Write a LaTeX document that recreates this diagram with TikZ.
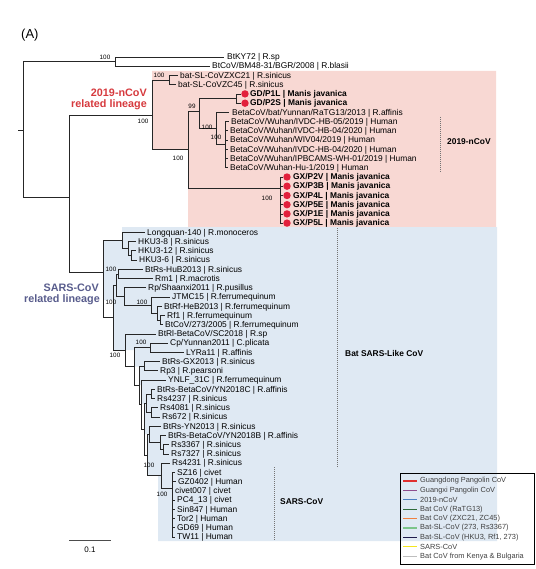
\documentclass[tikz,border=0pt]{standalone}
\usepackage{fontspec}
\setmainfont{Liberation Sans}
\definecolor{pinkbg}{RGB}{248,216,211}
\definecolor{bluebg}{RGB}{223,233,243}
\definecolor{dotred}{RGB}{226,32,60}
\definecolor{ncovred}{RGB}{214,58,62}
\definecolor{sarsblue}{RGB}{88,92,140}
\definecolor{lgGD}{RGB}{224,48,47}
\definecolor{lgGX}{RGB}{142,78,142}
\definecolor{lgNC}{RGB}{74,127,192}
\definecolor{lgRA}{RGB}{46,107,58}
\definecolor{lgZX}{RGB}{240,128,64}
\definecolor{lgSL}{RGB}{124,197,138}
\definecolor{lgHK}{RGB}{30,27,75}
\definecolor{lgSA}{RGB}{245,230,30}
\definecolor{lgKB}{RGB}{190,190,190}
\tikzset{
  br/.style={draw=black!85, line width=0.75pt},
  leaf/.style={anchor=west, inner sep=0pt, font=\fontsize{8.4}{9}\selectfont, text height=5.6pt, text depth=0pt},
  bleaf/.style={leaf, font=\fontsize{8.4}{9}\selectfont\bfseries},
  bs/.style={inner sep=0pt, font=\fontsize{6.3}{7}\selectfont},
  dotmark/.style={circle, fill=dotred, inner sep=0pt, minimum size=7.4pt},
  dotline/.style={draw=black!55, line width=0.9pt, dash pattern=on 1pt off 1pt},
  lineage/.style={anchor=east, inner sep=0pt, font=\fontsize{10.8}{12}\selectfont\bfseries},
  clade/.style={anchor=west, inner sep=0pt, font=\fontsize{8.4}{9}\selectfont\bfseries},
  legtext/.style={anchor=west, inner sep=0pt, text=black!75, font=\fontsize{7.4}{8}\selectfont},
  legline/.style={line width=1.3pt}
}
\begin{document}
\begin{tikzpicture}[x=1pt,y=-1pt]
\useasboundingbox (0,0) rectangle (535,569);
% backgrounds
\fill[pinkbg] (152,71) -- (496,71) -- (496,227) -- (188,227) -- (188,149.5) -- (152,149.5) -- cycle;
\fill[bluebg] (122,227) -- (497,227) -- (497,541) -- (158,541) -- (158,475.5) -- (147,475.5) -- (147,434) -- (144,434) -- (144,404) -- (141,404) -- (141,385) -- (139,385) -- (139,366.6) -- (134,366.6) -- (134,350) -- (113,350) -- (113,300) -- (103,300) -- (103,240.4) -- (122,240.4) -- cycle;

\node[anchor=west, inner sep=0pt, font=\fontsize{13}{14}\selectfont] (panel) at (21,35) {(A)};

% leaves
\node[leaf] (n0) at (227,57.0) {BtKY72 | R.sp};
\node[leaf] (n1) at (212,66.2) {BtCoV/BM48-31/BGR/2008 | R.blasii};
\node[leaf] (n2) at (180,75.5) {bat-SL-CoVZXC21 | R.sinicus};
\node[leaf] (n3) at (178,84.7) {bat-SL-CoVZC45 | R.sinicus};
\node[bleaf] (n4) at (250,93.9) {GD/P1L | Manis javanica};
\node[bleaf] (n5) at (250,103.2) {GD/P2S | Manis javanica};
\node[leaf] (n6) at (232,112.4) {BetaCoV/bat/Yunnan/RaTG13/2013 | R.affinis};
\node[leaf] (n7) at (231,121.6) {BetaCoV/Wuhan/IVDC-HB-05/2019 | Human};
\node[leaf] (n8) at (230,130.8) {BetaCoV/Wuhan/IVDC-HB-04/2020 | Human};
\node[leaf] (n9) at (230,140.1) {BetaCoV/Wuhan/WIV04/2019 | Human};
\node[leaf] (n10) at (230,149.3) {BetaCoV/Wuhan/IVDC-HB-04/2020 | Human};
\node[leaf] (n11) at (230,158.5) {BetaCoV/Wuhan/IPBCAMS-WH-01/2019 | Human};
\node[leaf] (n12) at (230,167.8) {BetaCoV/Wuhan-Hu-1/2019 | Human};
\node[bleaf] (n13) at (293,177.0) {GX/P2V | Manis javanica};
\node[bleaf] (n14) at (293,186.2) {GX/P3B | Manis javanica};
\node[bleaf] (n15) at (293,195.5) {GX/P4L | Manis javanica};
\node[bleaf] (n16) at (293,204.7) {GX/P5E | Manis javanica};
\node[bleaf] (n17) at (293,213.9) {GX/P1E | Manis javanica};
\node[bleaf] (n18) at (293,223.1) {GX/P5L | Manis javanica};
\node[leaf] (n19) at (147,232.4) {Longquan-140 | R.monoceros};
\node[leaf] (n20) at (138,241.6) {HKU3-8 | R.sinicus};
\node[leaf] (n21) at (138,250.8) {HKU3-12 | R.sinicus};
\node[leaf] (n22) at (139,260.1) {HKU3-6 | R.sinicus};
\node[leaf] (n23) at (145,269.3) {BtRs-HuB2013 | R.sinicus};
\node[leaf] (n24) at (155,278.5) {Rm1 | R.macrotis};
\node[leaf] (n25) at (148,287.8) {Rp/Shaanxi2011 | R.pusillus};
\node[leaf] (n26) at (172,297.0) {JTMC15 | R.ferrumequinum};
\node[leaf] (n27) at (164,306.2) {BtRf-HeB2013 | R.ferrumequinum};
\node[leaf] (n28) at (167,315.4) {Rf1 | R.ferrumequinum};
\node[leaf] (n29) at (165,324.7) {BtCoV/273/2005 | R.ferrumequinum};
\node[leaf] (n30) at (158,333.9) {BtRl-BetaCoV/SC2018 | R.sp};
\node[leaf] (n31) at (170,343.1) {Cp/Yunnan2011 | C.plicata};
\node[leaf] (n32) at (186,352.4) {LYRa11 | R.affinis};
\node[leaf] (n33) at (162,361.6) {BtRs-GX2013 | R.sinicus};
\node[leaf] (n34) at (160,370.8) {Rp3 | R.pearsoni};
\node[leaf] (n35) at (168,380.1) {YNLF\_31C | R.ferrumequinum};
\node[leaf] (n36) at (157,389.3) {BtRs-BetaCoV/YN2018C | R.affinis};
\node[leaf] (n37) at (157,398.5) {Rs4237 | R.sinicus};
\node[leaf] (n38) at (160,407.7) {Rs4081 | R.sinicus};
\node[leaf] (n39) at (162,417.0) {Rs672 | R.sinicus};
\node[leaf] (n40) at (163,426.2) {BtRs-YN2013 | R.sinicus};
\node[leaf] (n41) at (168,435.4) {BtRs-BetaCoV/YN2018B | R.affinis};
\node[leaf] (n42) at (171,444.7) {Rs3367 | R.sinicus};
\node[leaf] (n43) at (171,453.9) {Rs7327 | R.sinicus};
\node[leaf] (n44) at (172,463.1) {Rs4231 | R.sinicus};
\node[leaf] (n45) at (177,472.4) {SZ16 | civet};
\node[leaf] (n46) at (178,481.6) {GZ0402 | Human};
\node[leaf] (n47) at (175,490.8) {civet007 | civet};
\node[leaf] (n48) at (177,500.0) {PC4\_13 | civet};
\node[leaf] (n49) at (177,509.3) {Sin847 | Human};
\node[leaf] (n50) at (177,518.5) {Tor2 | Human};
\node[leaf] (n51) at (177,527.7) {GD69 | Human};
\node[leaf] (n52) at (177,537.0) {TW11 | Human};

% internal nodes
\coordinate (stub) at (18,130);
\coordinate (root) at (23,130);
\coordinate (T1) at (115,61.6);
\coordinate (L0) at (69,197);
\coordinate (N1) at (152,115);
\coordinate (ZX) at (169,80.1);
\coordinate (N2) at (188,149.5);
\coordinate (N3) at (199,111);
\coordinate (GD) at (236,98.5);
\coordinate (An) at (216,128.5);
\coordinate (Hn) at (225,144.7);
\coordinate (GX) at (280,188);
\coordinate (R0) at (103,272);
\coordinate (Lq) at (122,240.4);
\coordinate (H) at (128,248.5);
\coordinate (H2) at (131,255.5);
\coordinate (M) at (113,317.7);
\coordinate (A0) at (116,285.2);
\coordinate (Q) at (118,273.9);
\coordinate (P) at (124,296.5);
\coordinate (F) at (151,305.5);
\coordinate (F2) at (157,313.1);
\coordinate (F3) at (160,320.1);
\coordinate (B1) at (125,350.2);
\coordinate (B2) at (134,366.6);
\coordinate (C) at (150,347.8);
\coordinate (B3) at (139,385.4);
\coordinate (G) at (144,366.2);
\coordinate (B4) at (141,404.6);
\coordinate (B5) at (144,429);
\coordinate (K) at (146,403.1);
\coordinate (K1) at (151,393.9);
\coordinate (K2) at (151,412.4);
\coordinate (B6) at (147,455);
\coordinate (Y) at (149,434.3);
\coordinate (Y2) at (160,442.4);
\coordinate (Y3) at (163,449.3);
\coordinate (S1) at (161,475.5);
\coordinate (SA) at (172,488);

% branches
\draw[br] (stub) -- (root);
\draw[br] (root) |- (T1);
\draw[br] (root) |- (L0);
\draw[br] (T1) |- ([xshift=-3pt]n0.west);
\draw[br] (T1) |- ([xshift=-2pt]n1.west);
\draw[br] (L0) |- (N1);
\draw[br] (L0) |- (R0);
\draw[br] (N1) |- (ZX);
\draw[br] (N1) |- (N2);
\draw[br] (ZX) |- ([xshift=-2pt]n2.west);
\draw[br] (ZX) |- ([xshift=-2pt]n3.west);
\draw[br] (N2) |- (N3);
\draw[br] (N2) |- (GX);
\draw[br] (N3) |- (GD);
\draw[br] (N3) |- (An);
\draw[br] (GD) |- ([xshift=-9pt]n4.west);
\draw[br] (GD) |- ([xshift=-9pt]n5.west);
\draw[br] (An) |- ([xshift=-3pt]n6.west);
\draw[br] (An) |- (Hn);
\foreach \k in {7,...,12} {\draw[br] (Hn) |- ([xshift=-2pt]n\k.west);}
\foreach \k in {13,...,18} {\draw[br] (GX) |- ([xshift=-10pt]n\k.west);}
\draw[br] (R0) |- (Lq);
\draw[br] (R0) |- (M);
\draw[br] (Lq) |- ([xshift=-2pt]n19.west);
\draw[br] (Lq) |- (H);
\draw[br] (H) |- ([xshift=-2pt]n20.west);
\draw[br] (H) |- (H2);
\draw[br] (H2) |- ([xshift=-2pt]n21.west);
\draw[br] (H2) |- ([xshift=-2pt]n22.west);
\draw[br] (M) |- (A0);
\draw[br] (M) |- (B1);
\draw[br] (A0) |- (Q);
\draw[br] (A0) |- (P);
\draw[br] (Q) |- ([xshift=-2pt]n23.west);
\draw[br] (Q) |- ([xshift=-2pt]n24.west);
\draw[br] (P) |- ([xshift=-2pt]n25.west);
\draw[br] (P) |- (F);
\draw[br] (F) |- ([xshift=-2pt]n26.west);
\draw[br] (F) |- (F2);
\draw[br] (F2) |- ([xshift=-2pt]n27.west);
\draw[br] (F2) |- (F3);
\draw[br] (F3) |- ([xshift=-2pt]n28.west);
\draw[br] (F3) |- ([xshift=-2pt]n29.west);
\draw[br] (B1) |- ([xshift=-2pt]n30.west);
\draw[br] (B1) |- (B2);
\draw[br] (B2) |- (C);
\draw[br] (B2) |- (B3);
\draw[br] (C) |- ([xshift=-2pt]n31.west);
\draw[br] (C) |- ([xshift=-2pt]n32.west);
\draw[br] (B3) |- (G);
\draw[br] (B3) |- (B4);
\draw[br] (G) |- ([xshift=-2pt]n33.west);
\draw[br] (G) |- ([xshift=-2pt]n34.west);
\draw[br] (B4) |- ([xshift=-2pt]n35.west);
\draw[br] (B4) |- (B5);
\draw[br] (B5) |- (K);
\draw[br] (B5) |- (B6);
\draw[br] (K) |- (K1);
\draw[br] (K) |- (K2);
\draw[br] (K1) |- ([xshift=-2pt]n36.west);
\draw[br] (K1) |- ([xshift=-2pt]n37.west);
\draw[br] (K2) |- ([xshift=-2pt]n38.west);
\draw[br] (K2) |- ([xshift=-2pt]n39.west);
\draw[br] (B6) |- (Y);
\draw[br] (B6) |- (S1);
\draw[br] (Y) |- ([xshift=-2pt]n40.west);
\draw[br] (Y) |- (Y2);
\draw[br] (Y2) |- ([xshift=-2pt]n41.west);
\draw[br] (Y2) |- (Y3);
\draw[br] (Y3) |- ([xshift=-2pt]n42.west);
\draw[br] (Y3) |- ([xshift=-2pt]n43.west);
\draw[br] (S1) |- ([xshift=-2pt]n44.west);
\draw[br] (S1) |- (SA);
\foreach \k in {45,...,52} {\draw[br] (SA) |- ([xshift=-2pt]n\k.west);}

% pangolin dots
\foreach \k in {4,5} {\node[dotmark] (d\k) at ([xshift=-5pt]n\k.west) {};}
\foreach \k in {13,...,18} {\node[dotmark] (d\k) at ([xshift=-6pt]n\k.west) {};}

% bootstrap values
\node[bs] (b1) at (105,57) {100};
\node[bs] (b2) at (159,75) {100};
\node[bs] (b3) at (143,121) {100};
\node[bs] (b4) at (178,158) {100};
\node[bs] (b5) at (192,106) {99};
\node[bs] (b6) at (207,127) {100};
\node[bs] (b7) at (216,137) {100};
\node[bs] (b8) at (267,198) {100};
\node[bs] (b9) at (111,269) {100};
\node[bs] (b10) at (111,302) {100};
\node[bs] (b11) at (142,302) {100};
\node[bs] (b12) at (141,342) {100};
\node[bs] (b13) at (115,355) {100};
\node[bs] (b14) at (149,465) {100};
\node[bs] (b15) at (162,494) {100};

% lineage labels
\node[lineage, text=ncovred] (lin1) at (147,93) {2019-nCoV};
\node[lineage, text=ncovred] (lin2) at (147,105) {related lineage};
\node[lineage, text=sarsblue] (lin3) at (99,288) {SARS-CoV};
\node[lineage, text=sarsblue] (lin4) at (100,300) {related lineage};

% clade brackets
\coordinate (c1a) at (440,117); \coordinate (c1b) at (440,172);
\draw[dotline] (c1a) -- (c1b);
\node[clade] (cl1) at (447,142) {2019-nCoV};
\coordinate (c2a) at (337,228); \coordinate (c2b) at (337,467);
\draw[dotline] (c2a) -- (c2b);
\node[clade] (cl2) at (345,353) {Bat SARS-Like CoV};
\coordinate (c3a) at (274,467); \coordinate (c3b) at (274,540);
\draw[dotline] (c3a) -- (c3b);
\node[clade] (cl3) at (280,502) {SARS-CoV};

% scale bar
\coordinate (sb1) at (69,540); \coordinate (sb2) at (111,540);
\draw[draw=black!70, line width=1pt] (sb1) -- (sb2);
\node[inner sep=0pt, font=\fontsize{8}{9}\selectfont] (sbl) at (90,550) {0.1};

% legend
\draw[black, line width=0.6pt] (400,473) rectangle (534,564);
\foreach \yy/\cc/\tt [count=\i] in {481/lgGD/Guangdong Pangolin CoV, 490.4/lgGX/Guangxi Pangolin CoV, 499.8/lgNC/2019-nCoV, 509.2/lgRA/Bat CoV (RaTG13), 518.6/lgZX/{Bat CoV (ZXC21, ZC45)}, 528/lgSL/{Bat-SL-CoV (273, Rs3367)}, 537.4/lgHK/{Bat-SL-CoV (HKU3, Rf1, 273)}, 546.8/lgSA/SARS-CoV, 556.2/lgKB/Bat CoV from Kenya \& Bulgaria} {
  \draw[legline, \cc] (403,\yy) -- (417,\yy);
  \node[legtext] (lg\i) at (420,\yy) {\tt};
}
\end{tikzpicture}
\end{document}
